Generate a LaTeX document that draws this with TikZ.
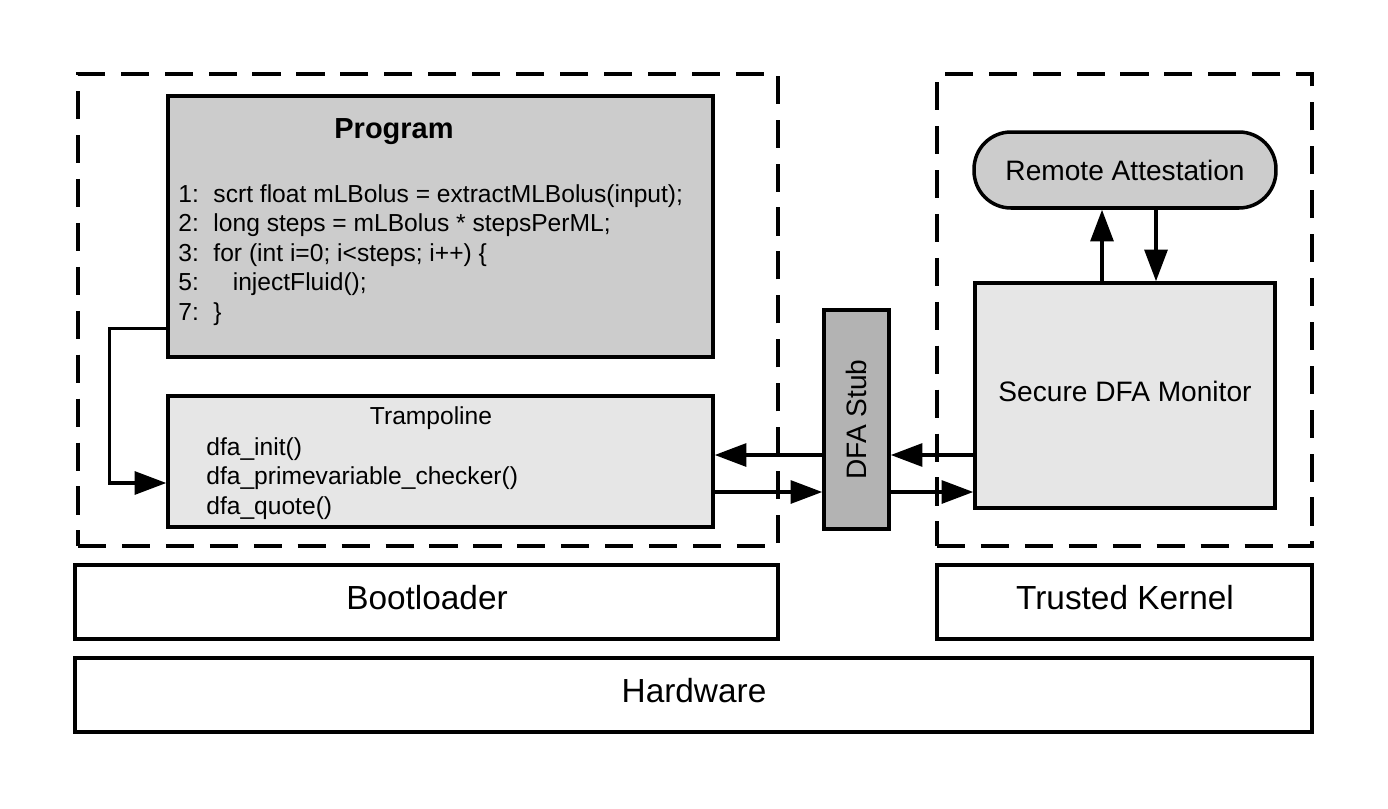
\documentclass[tikz,border=0pt]{standalone}
\usepackage{fontspec}
\setmainfont{Liberation Sans}
\usetikzlibrary{arrows.meta,positioning,shapes.misc}

\definecolor{darkbox}{HTML}{CCCCCC}
\definecolor{lightbox}{HTML}{E6E6E6}
\definecolor{stubgray}{HTML}{B3B3B3}

\begin{document}
\begin{tikzpicture}[x=0.02cm,y=-0.02cm,
    blk/.style={draw,line width=2pt,inner sep=0pt},
    frame/.style={draw,line width=2pt,dash pattern=on 16pt off 9pt,inner sep=0pt},
    arr/.style={-{Triangle[length=18pt,width=13pt]},line width=2pt},
    big/.style={font=\fontsize{19}{23}\selectfont},
    mid/.style={font=\fontsize{16}{19}\selectfont},
    small/.style={font=\fontsize{14}{16.8}\selectfont}]
     \useasboundingbox (0,0) rectangle (1388,808);

     \node[frame,minimum width=14cm,minimum height=9.44cm] (lframe) at (428,310) {};
     \node[frame,minimum width=7.5cm,minimum height=9.44cm] (rframe) at (1124.5,310) {};

     \node[blk,fill=darkbox,minimum width=10.9cm,minimum height=5.22cm] (prog) at (440.5,226.5) {};
     \node[mid,font=\fontsize{16.5}{19}\selectfont\bfseries] (progtitle) at (394,132) {Program};
     \node[small,anchor=north west,align=left,inner sep=0pt] (code) at (178,184) {%
       \makebox[20pt][l]{1:}scrt float mLBolus = extractMLBolus(input);\\
       \makebox[20pt][l]{2:}long steps = mLBolus * stepsPerML;\\
       \makebox[20pt][l]{3:}for (int i=0; i<steps; i++) \{\\
       \makebox[20pt][l]{5:}\hspace{11pt}injectFluid();\\
       \makebox[20pt][l]{7:}\}};

     \node[blk,fill=lightbox,minimum width=10.9cm,minimum height=2.62cm] (tramp) at (440.5,461.5) {};
     \node[small] (tramptitle) at (431,418) {Trampoline};
     \node[small,anchor=north west,align=left,inner sep=0pt] (calls) at (206,437) {%
       dfa\_init()\\
       dfa\_primevariable\_checker()\\
       dfa\_quote()};

     \node[blk,fill=stubgray,minimum width=1.3cm,minimum height=4.38cm] (stub) at (856.5,419.5) {};
     \node[mid,rotate=90] (stubtext) at (stub.center) {DFA Stub};

     \node[blk,fill=darkbox,rounded corners=0.74cm,minimum width=6.04cm,minimum height=1.52cm,mid] (attest) at (1125,170) {Remote Attestation};
     \node[blk,fill=lightbox,minimum width=6cm,minimum height=4.5cm] (monitor) at (1125,395.5) {};
     \node[mid] (montext) at (1125,391) {Secure DFA Monitor};

     \node[blk,minimum width=14.06cm,minimum height=1.48cm] (boot) at (426.5,602) {};
     \node[big] (boottext) at (427,598) {Bootloader};
     \node[blk,minimum width=7.5cm,minimum height=1.48cm] (kernel) at (1124.5,602) {};
     \node[big] (kerneltext) at (1125,598) {Trusted Kernel};
     \node[blk,minimum width=24.74cm,minimum height=1.48cm] (hw) at (693.5,695) {};
     \node[big] (hwtext) at (694,691) {Hardware};

     % program loops into the trampoline
     \draw[arr] ([yshift=0.6cm]prog.south west) -- ++(-57,0) |- ([yshift=-0.43cm]tramp.west);
     \draw[arr] (stub.west |- 0,455) -- (tramp.east |- 0,455);
     \draw[arr] (tramp.east |- 0,492) -- (stub.west |- 0,492);
     \draw[arr] (monitor.west |- 0,455) -- (stub.east |- 0,455);
     \draw[arr] (stub.east |- 0,492) -- (monitor.west |- 0,492);
     \draw[arr] (monitor.north -| 1102,0) -- (attest.south -| 1102,0);
     \draw[arr] (attest.south -| 1156,0) -- (monitor.north -| 1156,0);
\end{tikzpicture}
\end{document}
